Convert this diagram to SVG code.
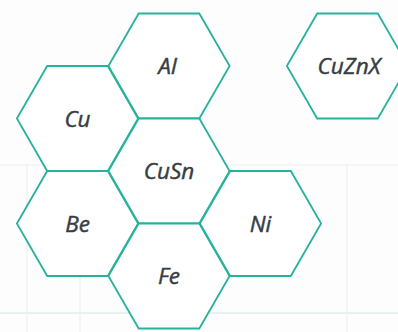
<svg xmlns="http://www.w3.org/2000/svg" width="398" height="332" viewBox="0 0 398 332">
<defs>
<style>
.hex{fill:#ffffff;stroke:#27b29b;stroke-width:1.8;stroke-linejoin:miter}
.lbl{font-family:"Open Sans","Noto Sans","Liberation Sans",sans-serif;font-style:italic;font-size:22.5px;fill:#363d44;stroke:#363d44;stroke-width:0.45;text-anchor:middle}
.bg{stroke:#f1f2f2;stroke-width:1.5;fill:none}
</style>
<polygon id="h" points="-60.6,0 -30.3,-52.5 30.3,-52.5 60.6,0 30.3,52.5 -30.3,52.5"/>
</defs>
<rect width="398" height="332" fill="#fdfdfd"/>
<g id="background">
<line class="bg" x1="0" y1="165" x2="398" y2="165"/>
<line class="bg" x1="27" y1="165" x2="27" y2="332"/>
<line class="bg" x1="80" y1="165" x2="80" y2="332"/>
<line class="bg" x1="347" y1="165" x2="347" y2="332"/>
<line x1="0" y1="313" x2="398" y2="313" stroke="#e6f2ef" stroke-width="2"/>
</g>
<g id="connectors"></g>
<g id="node-Cu"><use href="#h" class="hex" x="77.5" y="118.5"/><text class="lbl" x="77.5" y="126.5">Cu</text></g>
<g id="node-Be"><use href="#h" class="hex" x="77.5" y="223.5"/><text class="lbl" x="77.5" y="231.5">Be</text></g>
<g id="node-Al"><use href="#h" class="hex" x="169" y="66"/><text class="lbl" x="167.5" y="74">Al</text></g>
<g id="node-CuSn"><use href="#h" class="hex" x="169" y="171"/><text class="lbl" x="169" y="179">CuSn</text></g>
<g id="node-Fe"><use href="#h" class="hex" x="169" y="276"/><text class="lbl" x="169" y="284">Fe</text></g>
<g id="node-Ni"><use href="#h" class="hex" x="260.5" y="223.5"/><text class="lbl" x="260.5" y="231.5">Ni</text></g>
<g id="node-CuZnX"><use href="#h" class="hex" x="347.5" y="66"/><text class="lbl" x="349" y="74">CuZnX</text></g>
</svg>
